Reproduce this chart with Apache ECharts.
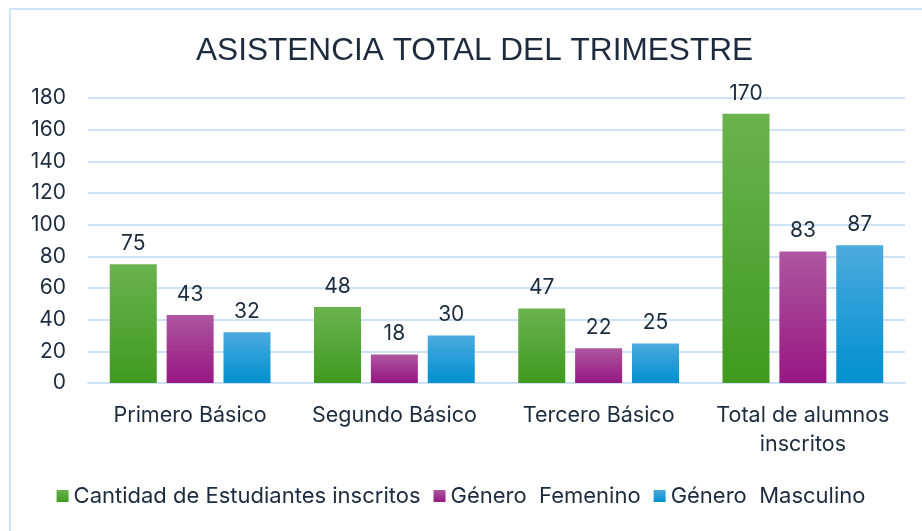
<!DOCTYPE html>
<html>
<head>
<meta charset="utf-8">
<script src="https://cdn.jsdelivr.net/npm/echarts@6/dist/echarts.min.js"></script>
<style>
  html, body { margin: 0; padding: 0; background: #fff; }
  #frame { position: absolute; left: 9px; top: 8px; width: 930px; height: 540px; border-left: 2px solid #cfe2f5; border-top: 2px solid #cfe2f5; }
  #chart { position: absolute; left: 0; top: 0; width: 922px; height: 531px; }
</style>
</head>
<body>
<div id="frame"></div>
<div id="chart"></div>
<script>
// categorías y valores
const categories = ['Primero Básico', 'Segundo Básico', 'Tercero Básico', 'Total de alumnos\ninscritos'];
const inscritos = [75, 48, 47, 170];
const femenino = [43, 18, 22, 83];
const masculino = [32, 30, 25, 87];
const seriesNames = ['Cantidad de Estudiantes inscritos', 'Género  Femenino', 'Género  Masculino'];

const textColor = '#1d2b3f';
const font = 'Inter, "Noto Sans", sans-serif';

function grad(top, bottom) {
  return new echarts.graphic.LinearGradient(0, 0, 0, 1, [
    { offset: 0, color: top },
    { offset: 1, color: bottom }
  ]);
}

const chart = echarts.init(document.getElementById('chart'));

function barSeries(name, data, top, bottom) {
  return {
    name: name,
    type: 'bar',
    data: data,
    barWidth: 47,
    barGap: '21%',
    itemStyle: { color: grad(top, bottom) },
    label: {
      show: true,
      position: 'top',
      distance: 10,
      color: textColor,
      fontSize: 21,
      fontFamily: font
    }
  };
}

chart.setOption({
  animation: false,
  color: ['#4ea72e', '#a0218c', '#0c9ad8'],
  title: {
    text: 'ASISTENCIA TOTAL DEL TRIMESTRE',
    left: 191,
    top: 30,
    textStyle: {
      color: textColor,
      fontSize: 31.6,
      fontWeight: 'normal',
      fontFamily: '"Liberation Sans Narrow", "Liberation Sans", sans-serif'
    }
  },
  legend: {
    bottom: 19,
    left: 'center',
    itemWidth: 12,
    itemHeight: 12,
    itemGap: 13,
    icon: 'rect',
    textStyle: { color: textColor, fontSize: 22, fontFamily: font },
    data: seriesNames
  },
  grid: { left: 88, right: 17, top: 98, bottom: 148 },
  xAxis: {
    type: 'category',
    data: categories,
    axisLine: { lineStyle: { color: '#cfe2f5', width: 2 } },
    axisTick: { show: false },
    axisLabel: {
      interval: 0,
      color: textColor,
      fontSize: 21.5,
      fontFamily: font,
      margin: 18,
      lineHeight: 29
    }
  },
  yAxis: {
    type: 'value',
    min: 0,
    max: 180,
    interval: 20,
    axisLine: { show: false },
    axisTick: { show: false },
    axisLabel: { color: textColor, fontSize: 21, fontFamily: font, margin: 22 },
    splitLine: { lineStyle: { color: '#cfe2f5', width: 2 } }
  },
  series: [
    barSeries(seriesNames[0], inscritos, '#6ab34e', '#3f9a1f'),
    barSeries(seriesNames[1], femenino, '#ae56a0', '#971783'),
    barSeries(seriesNames[2], masculino, '#4caade', '#0090cf')
  ]
});
</script>
</body>
</html>
